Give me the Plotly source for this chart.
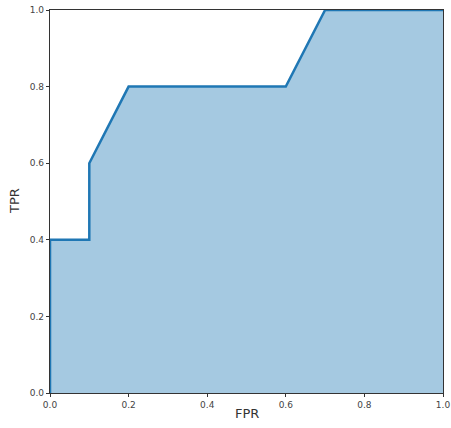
import plotly.graph_objects as go

fpr = [0.0, 0.0, 0.1, 0.1, 0.2, 0.6, 0.7, 1.0]
tpr = [0.0, 0.4, 0.4, 0.6, 0.8, 0.8, 1.0, 1.0]
tick_vals = [0.0, 0.2, 0.4, 0.6, 0.8, 1.0]

fig = go.Figure()
fig.add_trace(go.Scatter(
    x=fpr, y=tpr, mode="lines", fill="tozeroy",
    fillcolor="rgba(31,119,180,0.4)",
    line=dict(color="#1f77b4", width=2.5),
    showlegend=False,
))

axis_common = dict(
    range=[0, 1], tickvals=tick_vals, tickformat=".1f", automargin=False,
    showgrid=False, zeroline=False, showline=True, mirror=True,
    linecolor="#333", linewidth=1.2, ticks="outside", ticklen=3,
    tickcolor="#333", tickfont=dict(size=9, color="#444", family="DejaVu Sans"),
)
fig.update_xaxes(**axis_common)
fig.update_yaxes(**axis_common)

title_font = dict(size=13, color="#333", family="DejaVu Sans")
fig.add_annotation(text="FPR", xref="paper", yref="paper", x=0.5, y=-0.03,
                   yanchor="top", showarrow=False, font=title_font)
fig.add_annotation(text="TPR", xref="paper", yref="paper", x=-0.066, y=0.5,
                   textangle=-90, xanchor="right", showarrow=False, font=title_font)

fig.update_layout(
    width=451, height=428,
    margin=dict(l=50, r=8, t=10, b=35),
    plot_bgcolor="white", paper_bgcolor="white",
)
fig.write_html("out.html", config={"displayModeBar": False},
               post_script="document.body.style.margin='0';document.body.style.overflow='hidden';")
